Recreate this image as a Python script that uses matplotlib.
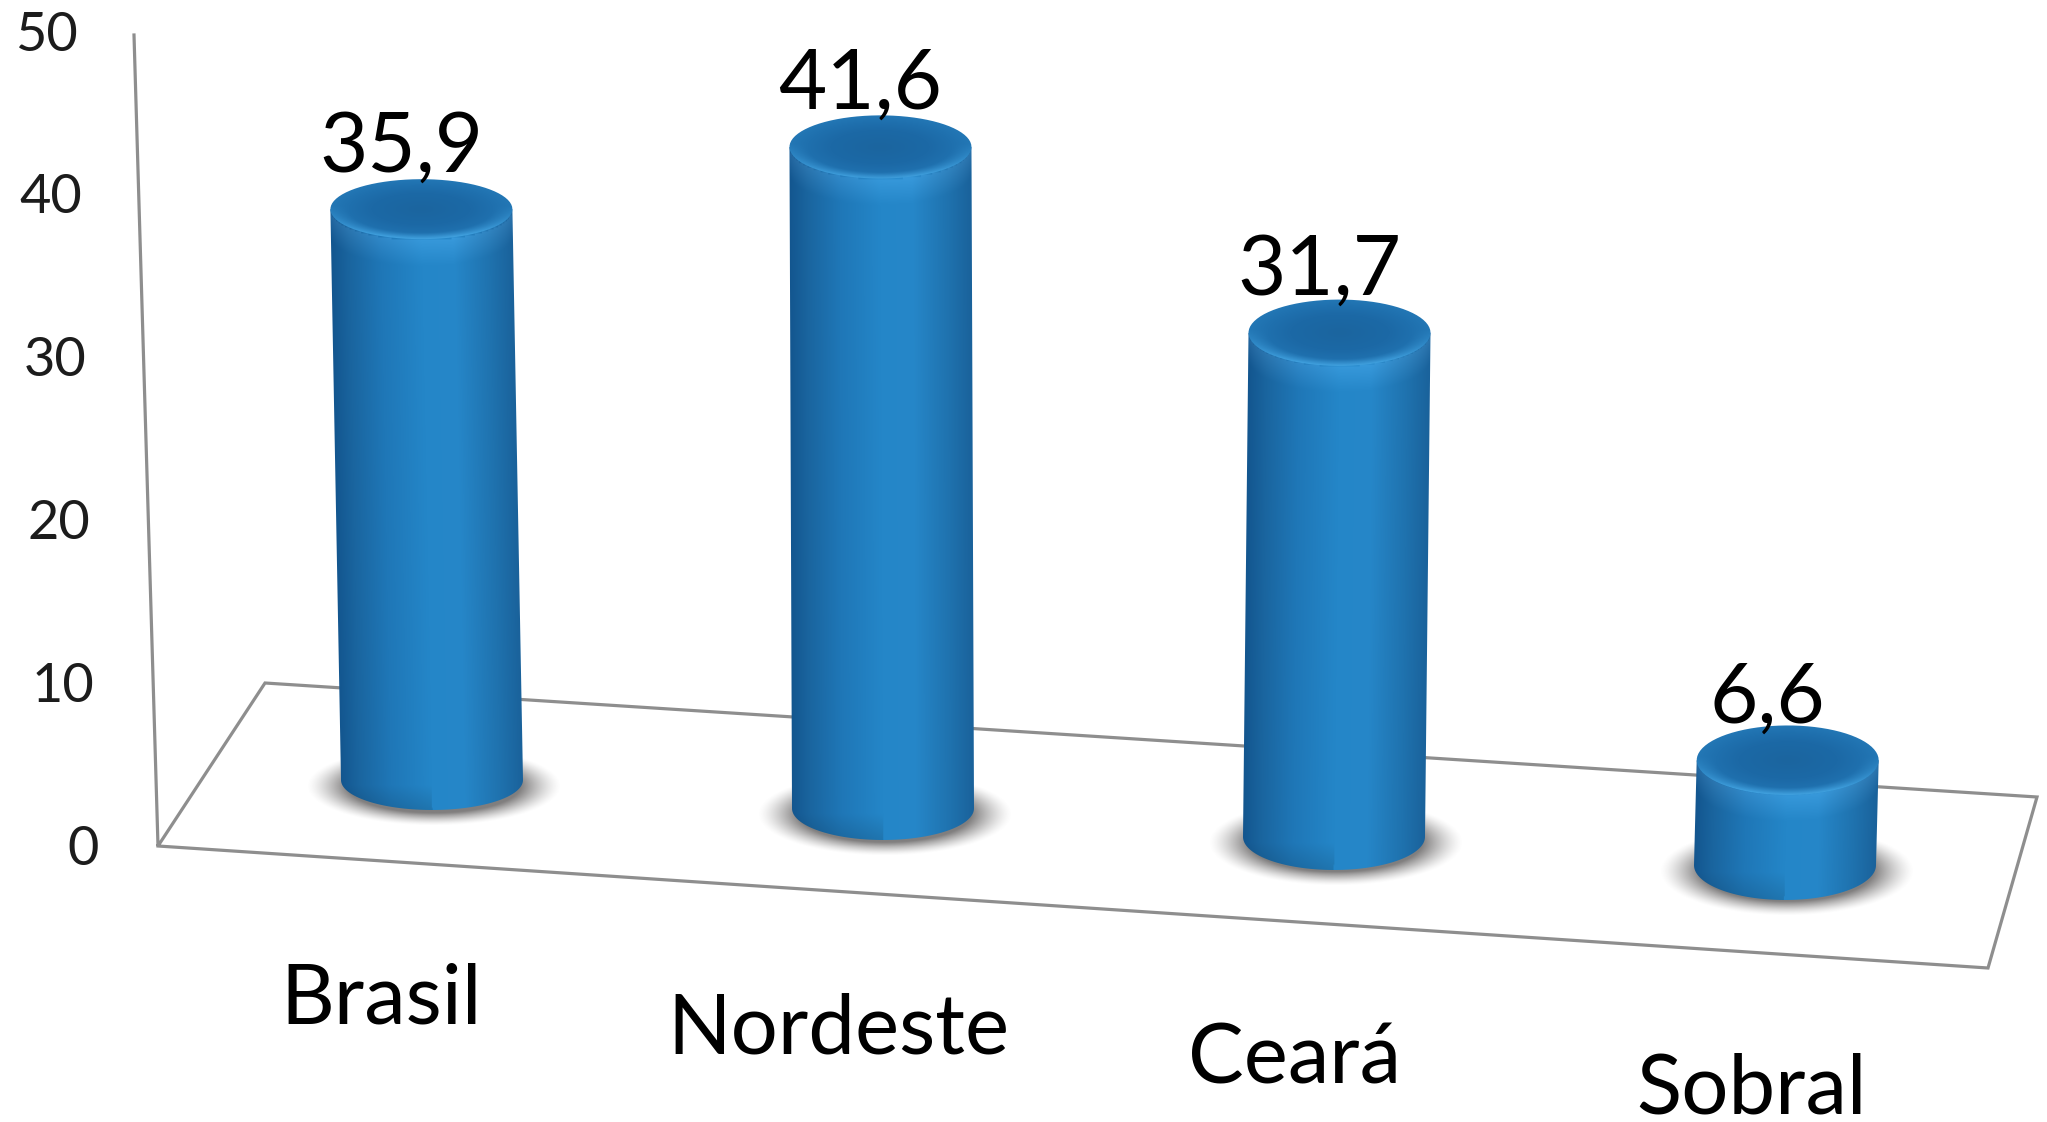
#!/usr/bin/env python3
import numpy as np
import matplotlib
matplotlib.use('Agg')
import matplotlib.pyplot as plt
from matplotlib.colors import to_rgb
from matplotlib.path import Path

plt.rcParams['font.family'] = ['Lato', 'DejaVu Sans']

categories = ['Brasil', 'Nordeste', 'Ceará', 'Sobral']
values = [35.9, 41.6, 31.7, 6.6]
value_labels = ['35,9', '41,6', '31,7', '6,6']
y_ticks = [0, 10, 20, 30, 40, 50]

W, H = 2047, 1122
UNIT = 15.9  # px per value unit


def project(i, v=0.0):
    # the old 3D chart: category row runs downhill, verticals fan out a bit
    x0 = 432 + 451 * i
    y0 = 780 + 28.4 * i
    return x0 + (x0 - 1000) * 0.00052 * v, y0 - UNIT * v


def stops(t, pos, cols):
    rgb = np.array([to_rgb(c) for c in cols])
    return np.dstack([np.interp(t, pos, rgb[:, k]) for k in range(3)])


def ellipse_pts(cx, cy, a, b, t0=0.0, t1=2 * np.pi, n=80):
    t = np.linspace(t0, t1, n)
    return np.column_stack([cx + a * np.cos(t), cy + b * np.sin(t)])


def paint(ax, img, extent, path, z):
    im = ax.imshow(img, extent=extent, origin='upper', aspect='auto', zorder=z,
                   interpolation='bilinear')
    if path is not None:
        im.set_clip_path(path, transform=ax.transData)


def draw_shadow(ax, cx, cy, a, b):
    xs = np.linspace(cx - a, cx + a, 160)
    ys = np.linspace(cy - b, cy + b, 100)
    xx, yy = np.meshgrid(xs, ys)
    r = np.hypot((xx - cx) / a, (yy - cy) / b)
    alpha = np.clip((1 - r) / 0.32, 0, 1) ** 1.4 * 0.8
    img = np.dstack([np.full_like(r, 0.38), np.full_like(r, 0.37), np.full_like(r, 0.37), alpha])
    paint(ax, img, (cx - a, cx + a, cy + b, cy - b), None, 2)


def draw_cylinder(ax, i, v):
    bx, by = project(i, 0)
    tx, ty = project(i, v)
    a = 91
    b = 30 + 1.6 * i

    draw_shadow(ax, bx + 2, by + 6, 128, b + 10)

    # side of the cylinder
    side = np.vstack([
        [[tx - a, ty]],
        ellipse_pts(bx, by, a, b, np.pi, 0),
        [[tx + a, ty]],
    ])
    left, right = min(tx, bx) - a - 2, max(tx, bx) + a + 2
    top, bottom = ty - 2, by + b + 2
    xs = np.linspace(left, right, 220)
    ys = np.linspace(top, bottom, 300)
    xx, yy = np.meshgrid(xs, ys)
    cx = tx + (bx - tx) * (yy - ty) / max(by - ty, 1)
    u = (xx - cx) / a
    img = stops(u, [-1, -0.8, -0.45, 0.0, 0.35, 0.75, 1],
                ['#13568f', '#1a659f', '#1f77b7', '#2486c8', '#2687c9', '#1f72ae', '#1a629b'])
    # lighter band just below the lid, darker towards the foot
    below = yy - (ty + b * np.sqrt(np.clip(1 - u ** 2, 0, 1)))
    img = img + (np.clip(1 - below / 26, 0, 1) * 0.07)[..., None] * (below > 0)[..., None]
    foot = np.clip((yy - by - b * 0.2) / (b * 0.8), 0, 1)
    img = np.clip(img * (1 - 0.12 * foot[..., None] * (u < 0)[..., None]), 0, 1)
    paint(ax, img, (left, right, bottom, top), Path(side), 4)

    # lid
    pad = 2
    xs = np.linspace(tx - a - pad, tx + a + pad, 200)
    ys = np.linspace(ty - b - pad, ty + b + pad, 90)
    xx, yy = np.meshgrid(xs, ys)
    dx, dy = (xx - tx) / a, (yy - ty) / b
    r = np.hypot(dx, dy)
    img = stops(r, [0, 0.55, 0.8, 1], ['#1b659f', '#1c69a6', '#1f70ae', '#2377b5'])
    rim = np.clip((r - 0.8) / 0.2, 0, 1) * np.clip(dy + 0.1, 0, 1)
    img = np.clip(img + (rim * 0.16)[..., None] * np.array([0.7, 1.0, 1.0]), 0, 1)
    paint(ax, img, (tx - a - pad, tx + a + pad, ty + b + pad, ty - b - pad),
          Path(ellipse_pts(tx, ty, a, b)), 5)


fig = plt.figure(figsize=(W / 100, H / 100), dpi=100, facecolor='white')
ax = fig.add_axes([0, 0, 1, 1])

# wall and floor of the chart
frame = '#8e8e8e'
ax.plot([134, 158, 265, 2037, 1988, 158], [35, 846, 683, 797, 968, 846],
        color=frame, lw=2.3, solid_joinstyle='miter', zorder=1)

for t in y_ticks:
    ax.text(99 - 0.42 * t, 849 - 16.28 * t, str(t), fontsize=39, color='#1c1c1c',
            ha='right', va='center', zorder=6)

for i, v in enumerate(values):
    draw_cylinder(ax, i, v)

for i, (v, lab) in enumerate(zip(values, value_labels)):
    tx, ty = project(i, v)
    ax.text(tx - 20, ty - 38, lab, fontsize=60, color='black', ha='center',
            va='baseline', zorder=7)

for i, name in enumerate(categories):
    ax.text(381 + 457 * i, 1023 + 30 * i, name, fontsize=60, color='black', ha='center',
            va='baseline', zorder=7)

ax.set_xlim(0, W)
ax.set_ylim(H, 0)
ax.axis('off')

fig.savefig('out.png', dpi=100)
